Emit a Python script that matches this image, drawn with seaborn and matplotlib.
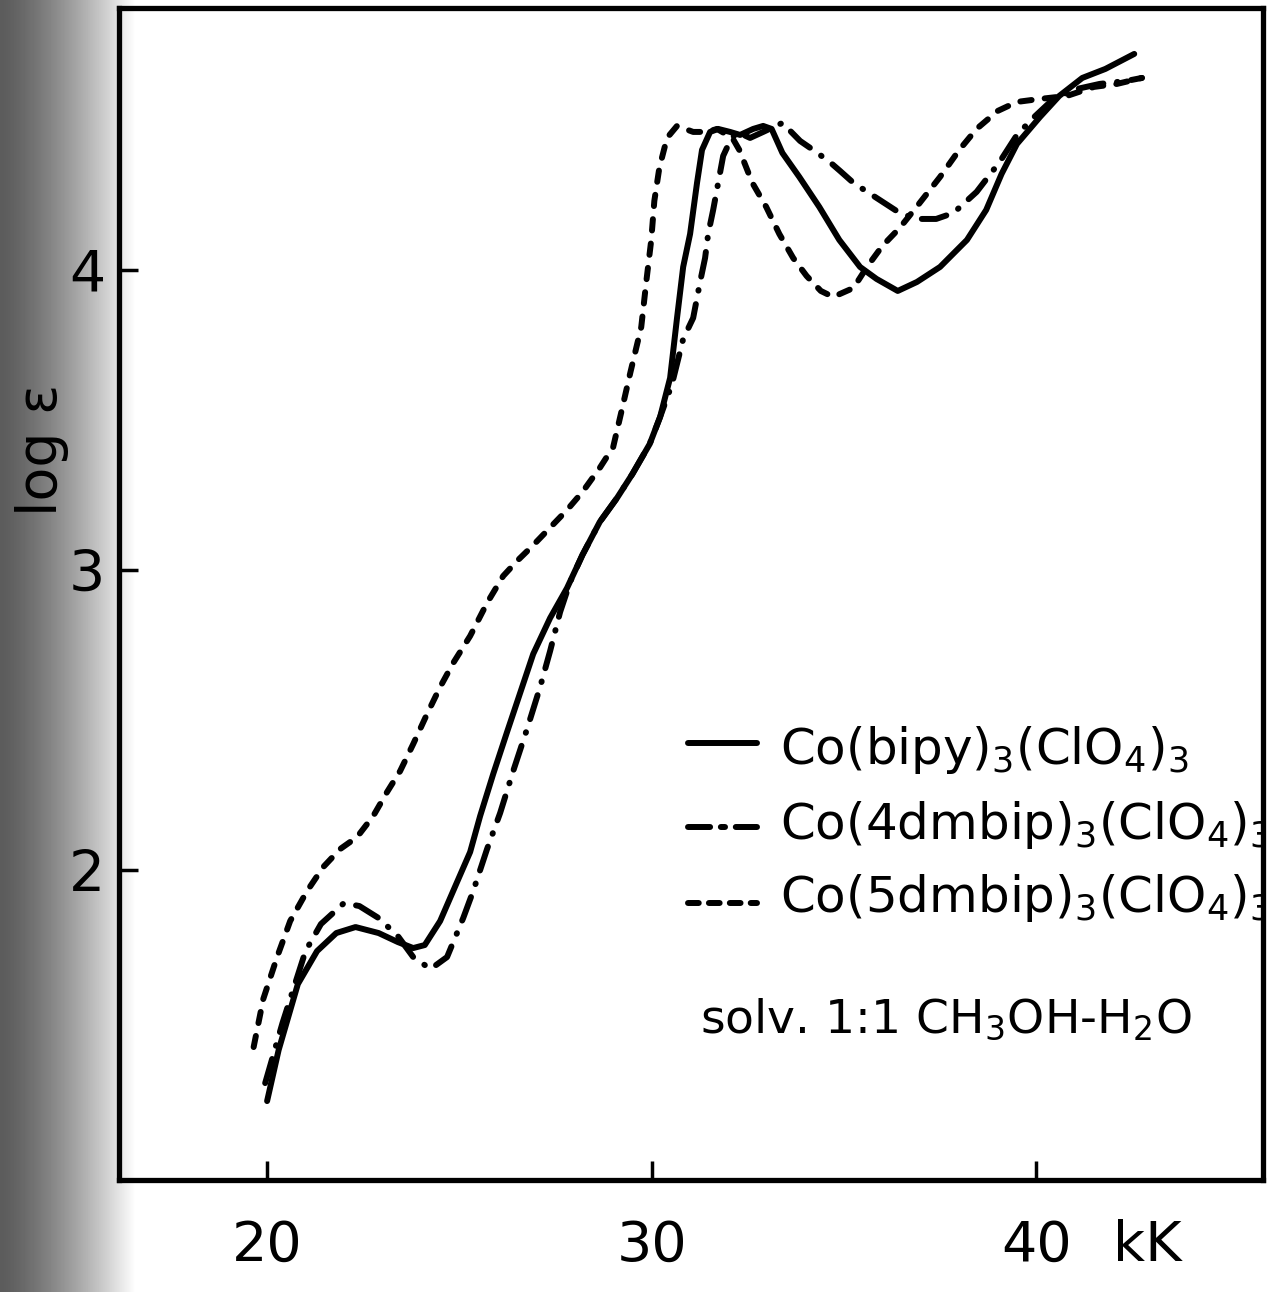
import numpy as np
import pandas as pd
import matplotlib
matplotlib.use("Agg")
import matplotlib.pyplot as plt
import seaborn as sns
from matplotlib.transforms import blended_transform_factory

# ---------------- data ----------------
bipy_x = [20.0, 20.3, 20.8, 21.3, 21.8, 22.3, 22.9, 23.4, 23.8, 24.1, 24.5, 24.94,
          25.28, 25.54, 25.88, 26.24, 26.58, 26.92, 27.36, 27.8, 28.2, 28.65, 29.1,
          29.5, 29.95, 30.22, 30.48, 30.66, 30.82, 31.0, 31.18, 31.31, 31.52, 31.73,
          32.04, 32.3, 32.64, 32.9, 33.12, 33.4, 33.84, 34.36, 34.88, 35.42, 35.85,
          36.4, 36.9, 37.5, 38.2, 38.7, 39.1, 39.5, 40.1, 40.6, 41.2, 41.8, 42.55]
bipy_y = [1.23, 1.40, 1.62, 1.73, 1.79, 1.81, 1.79, 1.76, 1.74, 1.75, 1.83, 1.96,
          2.06, 2.18, 2.32, 2.46, 2.59, 2.72, 2.84, 2.94, 3.05, 3.16, 3.24,
          3.32, 3.42, 3.51, 3.64, 3.84, 4.01, 4.12, 4.29, 4.40, 4.46, 4.47,
          4.46, 4.45, 4.47, 4.48, 4.47, 4.39, 4.31, 4.21, 4.10, 4.01, 3.97,
          3.93, 3.96, 4.01, 4.10, 4.20, 4.32, 4.42, 4.51, 4.58, 4.64, 4.67, 4.72]

dmb4_x = [19.95, 20.4, 21.0, 21.4, 22.0, 22.4, 22.9, 23.4, 23.8, 24.25, 24.68, 25.1,
          25.36, 25.72, 26.06, 26.4, 26.76, 27.1, 27.36, 27.62, 27.88, 28.2, 28.65,
          29.1, 29.5, 29.95, 30.22, 30.53, 30.82, 31.08, 31.26, 31.39, 31.47, 31.6,
          31.73, 31.86, 32.04, 32.22, 32.56, 32.9, 33.4, 33.86, 34.2, 34.63, 34.9,
          35.25, 35.85, 36.45, 36.9, 37.4, 37.85, 38.45, 39.05, 39.5, 39.95, 40.45,
          40.95, 41.65, 42.35, 42.75]
dmb4_y = [1.29, 1.49, 1.73, 1.82, 1.89, 1.88, 1.84, 1.78, 1.71, 1.67, 1.71, 1.84,
          1.93, 2.07, 2.19, 2.33, 2.47, 2.61, 2.73, 2.86, 2.96, 3.05, 3.16,
          3.24, 3.32, 3.42, 3.51, 3.62, 3.77, 3.84, 3.96, 4.04, 4.12, 4.20,
          4.29, 4.38, 4.43, 4.46, 4.44, 4.46, 4.49, 4.43, 4.40, 4.36, 4.33,
          4.29, 4.24, 4.19, 4.17, 4.17, 4.19, 4.26, 4.36, 4.45, 4.51, 4.57,
          4.60, 4.62, 4.63, 4.64]

dmb5_x = [19.65, 19.9, 20.26, 20.6, 21.04, 21.46, 21.9, 22.34, 22.76, 23.12, 23.46,
          23.8, 24.16, 24.5, 24.84, 25.28, 25.72, 26.14, 26.5, 26.9, 27.35, 27.8,
          28.2, 28.65, 29.0, 29.2, 29.45, 29.73, 29.86, 29.99, 30.07, 30.2, 30.4,
          30.66, 31.08, 31.44, 31.7, 32.1, 32.28, 32.62, 32.98, 33.32, 33.68, 34.03,
          34.4, 34.72, 35.25, 35.6, 36.0, 36.45, 36.95, 37.5, 38.0, 38.45, 39.0,
          39.5, 40.1, 40.8, 41.5, 42.1, 42.75]
dmb5_y = [1.41, 1.57, 1.71, 1.83, 1.93, 2.01, 2.07, 2.11, 2.18, 2.26, 2.33,
          2.42, 2.52, 2.61, 2.69, 2.78, 2.89, 2.98, 3.03, 3.08, 3.14, 3.20,
          3.26, 3.34, 3.41, 3.52, 3.66, 3.81, 3.96, 4.10, 4.23, 4.34, 4.44,
          4.48, 4.46, 4.46, 4.47, 4.44, 4.40, 4.29, 4.21, 4.12, 4.04, 3.98,
          3.93, 3.91, 3.94, 4.01, 4.08, 4.14, 4.22, 4.31, 4.40, 4.47, 4.53,
          4.56, 4.57, 4.58, 4.61, 4.62, 4.64]

series_keys = ["bipy", "4dmbip", "5dmbip"]
series_labels = [r"Co(bipy)$_3$(ClO$_4$)$_3$",
                 r"Co(4dmbip)$_3$(ClO$_4$)$_3$",
                 r"Co(5dmbip)$_3$(ClO$_4$)$_3$"]
solvent_label = r"solv. 1:1 CH$_3$OH-H$_2$O"
x_ticks = [20, 30, 40]
x_ticklabels = ["20", "30", "40"]
y_ticks = [2, 3, 4]
y_ticklabels = ["2", "3", "4"]
x_unit = "kK"
y_label = "log ε"

# ---------------- styling ----------------
sns.set_theme(style="white")
plt.rcParams["font.family"] = ["DejaVu Sans"]
plt.rcParams["mathtext.fontset"] = "dejavusans"
plt.rcParams["text.color"] = "black"

LW = 4.3
dash_map = {"bipy": "", "4dmbip": (4.2, 2.3, 0.1, 2.3), "5dmbip": (1.9, 2.2)}
legend_dash_map = {"bipy": "", "4dmbip": (3.7, 1.8, 0.7, 1.8), "5dmbip": (1.8, 1.7)}

fig = plt.figure(figsize=(12.87, 12.92), dpi=100)

# scanned-page shading on the left margin
bg = fig.add_axes([0, 0, 1, 1], zorder=0)
cols = np.arange(1287)
shade = np.clip(0.36 + 0.64 * (cols / 135.0) ** 1.4, 0, 1)
bg.imshow(np.tile(shade, (20, 1)), cmap="gray", vmin=0, vmax=1,
          aspect="auto", extent=[0, 1, 0, 1])
bg.set_xlim(0, 1)
bg.set_ylim(0, 1)
bg.axis("off")

ax = fig.add_axes([0.0925, 0.0867, 0.8889, 0.9071], zorder=1)
ax.set_facecolor("none")

frames = []
for key, xs, ys in zip(series_keys, [bipy_x, dmb4_x, dmb5_x], [bipy_y, dmb4_y, dmb5_y]):
    frames.append(pd.DataFrame({"x": xs, "y": ys, "series": key}))
df = pd.concat(frames, ignore_index=True)

sns.lineplot(data=df, x="x", y="y", style="series", style_order=series_keys,
             dashes=dash_map, color="black", sort=False, estimator=None,
             legend=False, lw=LW, ax=ax, dash_capstyle="round",
             solid_capstyle="round", solid_joinstyle="round",
             dash_joinstyle="round")

ax.set_xlim(16.15, 45.9)
ax.set_ylim(0.967, 4.873)
ax.set_xticks(x_ticks)
ax.set_xticklabels(x_ticklabels, fontsize=40)
ax.set_yticks(y_ticks)
ax.set_yticklabels(y_ticklabels, fontsize=41)
ax.set_xlabel("")
ax.set_ylabel("")
ax.tick_params(axis="x", direction="in", length=14, width=2.5, pad=28,
               colors="black", labelcolor="black", bottom=True)
ax.tick_params(axis="y", direction="in", length=14, width=2.5, pad=10,
               colors="black", labelcolor="black", left=True)
for s in ax.spines.values():
    s.set_visible(True)
    s.set_color("black")
    s.set_linewidth(3.8)

# unit label next to the 40 tick
tr = blended_transform_factory(ax.transData, ax.transAxes)
ax.text(42.9, -0.0565, x_unit, transform=tr, fontsize=40, ha="center",
        va="center", clip_on=False, color="black")

# y-axis label
ax.text(-0.067, 0.623, y_label, transform=ax.transAxes, rotation=90,
        fontsize=40, ha="center", va="center", clip_on=False, color="black")

# hand-drawn legend
leg_y_line = [0.373, 0.301, 0.236]
leg_y_text = [0.367, 0.303, 0.241]
for key, lab, yl, yt in zip(series_keys, series_labels, leg_y_line, leg_y_text):
    ln, = ax.plot([0.497, 0.558], [yl, yl], transform=ax.transAxes,
                  color="black", lw=LW, dash_capstyle="round",
                  solid_capstyle="round")
    if legend_dash_map[key]:
        ln.set_dashes(legend_dash_map[key])
    ax.text(0.578, yt, lab, transform=ax.transAxes, fontsize=36,
            ha="left", va="center", clip_on=True, color="black")

ax.text(0.508, 0.1365, solvent_label, transform=ax.transAxes, fontsize=34,
        ha="left", va="center", color="black")

fig.savefig("out.png", dpi=100)
